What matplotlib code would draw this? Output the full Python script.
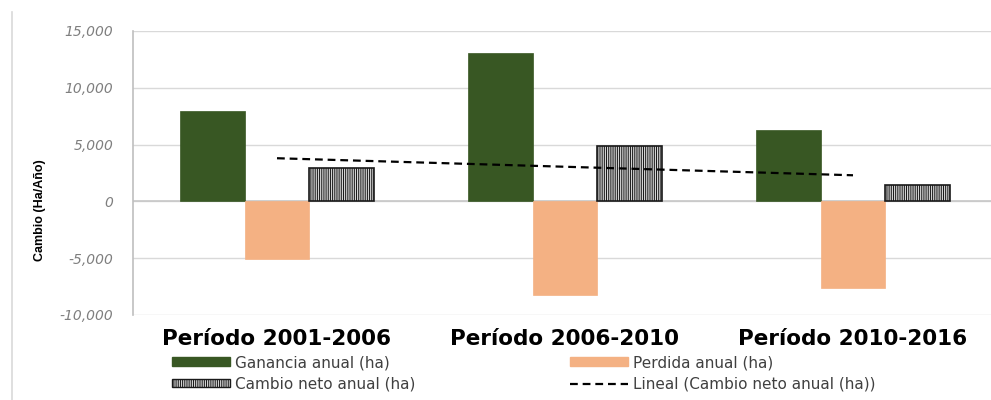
import matplotlib
matplotlib.use("Agg")
import matplotlib.pyplot as plt
import numpy as np
from matplotlib.patches import Patch
from matplotlib.lines import Line2D

# Datos (ha/año)
periodos = ["Período 2001-2006", "Período 2006-2010", "Período 2010-2016"]
ganancia = [8000, 13100, 6300]
perdida = [-5100, -8250, -7650]
cambio_neto = [2900, 4850, 1400]
yticks = [-10000, -5000, 0, 5000, 10000, 15000]
ytick_labels = ["-10,000", "-5,000", "0", "5,000", "10,000", "15,000"]

verde = "#385723"
naranja = "#F4B183"
gris_grid = "#D9D9D9"
rayado = "|||||||||"

plt.rcParams["hatch.linewidth"] = 0.75
plt.rcParams["font.family"] = ["DejaVu Sans"]

fig = plt.figure(figsize=(9.91, 4.0), dpi=100)
ax = fig.add_axes([133 / 991, 1 - 315 / 400, 864 / 991, 284 / 400])

x = np.arange(1, len(periodos) + 1)
w = 0.225

ax.bar(x - w, ganancia, width=w, color=verde, edgecolor=verde, linewidth=0.5, zorder=3)
ax.bar(x, perdida, width=w, color=naranja, edgecolor=naranja, linewidth=0.5, zorder=3)
ax.bar(x + w, cambio_neto, width=w, color="white", edgecolor="#1A1A1A",
       hatch=rayado, linewidth=1.2, zorder=3)

# Tendencia lineal del cambio neto
coef = np.polyfit(x, cambio_neto, 1)
ax.plot(x, np.polyval(coef, x), color="black", lw=1.6,
        linestyle=(0, (3.5, 2.2)), zorder=4)

ax.set_xlim(0.5, 3.5)
ax.set_ylim(-10000, 15000)
ax.set_yticks(yticks)
ax.set_yticklabels(ytick_labels, fontsize=10, color="#7F7F7F", style="italic")
ax.set_xticks(x)
ax.set_xticklabels(periodos, fontsize=15.5, fontweight="bold", color="black")
ax.tick_params(axis="x", length=0, pad=10)
ax.tick_params(axis="y", length=0, pad=14)

ax.grid(axis="y", color=gris_grid, lw=1, zorder=0)
ax.axhline(0, color="#C8C8C8", lw=1.2, zorder=2)
for s in ["top", "right", "bottom"]:
    ax.spines[s].set_visible(False)
ax.spines["left"].set_color("#BFBFBF")
ax.spines["left"].set_linewidth(1.2)

fig.text(40 / 991, 1 - 210 / 400, "Cambio (Ha/Año)", rotation=90,
         ha="center", va="center", fontsize=9, fontweight="bold",
         family=["Liberation Sans Narrow", "Liberation Sans", "DejaVu Sans"],
         color="black")

linea_tend = Line2D([0], [0], color="black", lw=1.6, linestyle=(0, (3.5, 2.2)))
columnas = [
    (172, [Patch(facecolor=verde, edgecolor=verde),
           Patch(facecolor="white", edgecolor="#1A1A1A", hatch=rayado)],
     ["Ganancia anual (ha)", "Cambio neto anual (ha)"]),
    (570, [Patch(facecolor=naranja, edgecolor=naranja), linea_tend],
     ["Perdida anual (ha)", "Lineal (Cambio neto anual (ha))"]),
]
for x0, hs, ls in columnas:
    leg = fig.legend(hs, ls, loc="upper left",
                     bbox_to_anchor=(x0 / 991, 1 - 355 / 400), frameon=False,
                     fontsize=11, handlelength=3.8, handleheight=0.45,
                     handletextpad=0.35, labelspacing=0.42,
                     borderpad=0, borderaxespad=0)
    for t in leg.get_texts():
        t.set_color("#404040")

fig.add_artist(Line2D([12 / 991, 12 / 991], [0, 1 - 12 / 400],
                      color=gris_grid, lw=1.2, transform=fig.transFigure))

fig.savefig("out.png", dpi=100)
